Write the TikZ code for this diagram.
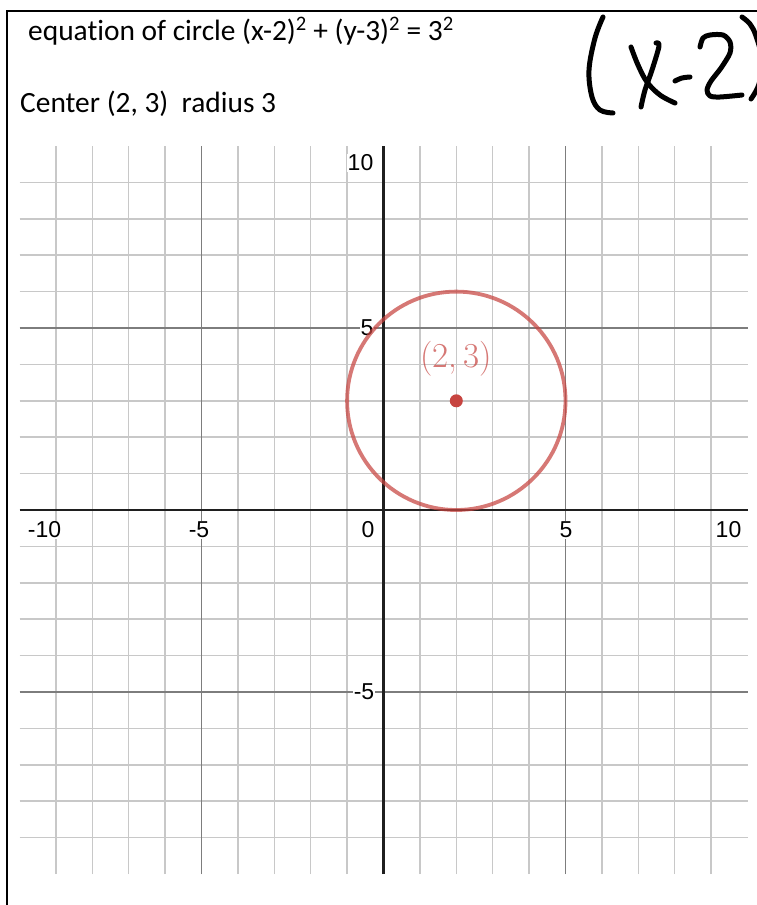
\documentclass[tikz,border=0pt]{standalone}
\usepackage{fontspec}
\setmainfont[Ligatures=NoCommon]{Carlito}
\newfontfamily\axisfont{Liberation Sans}
\newfontfamily\lmfont{Latin Modern Roman}
\definecolor{desred}{RGB}{199,68,64}
\definecolor{minorgrid}{RGB}{200,200,200}
\definecolor{majorgrid}{RGB}{125,125,125}
\begin{document}
\begin{tikzpicture}[x=1pt,y=-1pt,
  minor/.style={draw=minorgrid,line width=1.5pt},
  major/.style={draw=majorgrid,line width=1.5pt},
  axisline/.style={draw=black!88,line width=2.5pt},
  frameline/.style={draw=black,line width=2.6pt},
  ink/.style={draw=black,line width=5pt,line cap=round,line join=round},
  axlabel/.style={font=\axisfont\fontsize{23}{23}\selectfont,fill=white,inner sep=1pt,text=black},
  heading/.style={font=\fontsize{29.4}{31}\selectfont,inner sep=0pt,anchor=base west},
  ptlabel/.style={font=\lmfont\fontsize{35}{35}\selectfont,text=desred,text opacity=0.72,inner sep=0pt},
]
\useasboundingbox (0,0) rectangle (757,905);
\clip (0,0) rectangle (757,905);
\fill[white] (0,0) rectangle (757,905);
% frame
\coordinate (fbl) at (7,905);
\coordinate (ftl) at (7,11);
\coordinate (ftr) at (757,11);
\draw[frameline] (fbl) -- (ftl) -- (ftr);
% headings
\node[heading] (eq) at (28,40) {equation of circle (x-2)\textsuperscript{2} + (y-3)\textsuperscript{2} = 3\textsuperscript{2}};
\node[heading] (ctr) at (20,112) {Center (2, 3)\ \ radius 3};
% handwriting
\draw[ink] plot[smooth,tension=0.6] coordinates {(603,17) (595,38) (589,70) (592,97) (600,110) (613,113)};
\draw[ink] plot[smooth,tension=0.6] coordinates {(631,47) (638,65) (647,82) (660,95) (675,103)};
\draw[ink] plot[smooth,tension=0.6] coordinates {(656,43) (659,46) (652,70) (645,90) (641,107)};
\draw[ink] plot[smooth,tension=0.6] coordinates {(675,81) (682,78) (690,77)};
\draw[ink] plot[smooth,tension=0.5] coordinates {(700,47) (703,38) (710,35) (723,35) (730,42) (730,53) (721,68) (711,81) (707,90) (710,96) (720,97) (742,95)};
\draw[ink] plot[smooth,tension=0.6] coordinates {(742,17) (750,24) (756,36) (762,60) (759,84) (751,99)};
% grid
\begin{scope}[shift={(383.5,510)},x=36.4pt,y=36.4pt]
  \foreach \i in {-9,-8,-7,-6,-4,-3,-2,-1,1,2,3,4,6,7,8,9} {
    \draw[minor] (\i,-10) -- (\i,10);
    \draw[minor] (-10,\i) -- (10,\i);
  }
  \foreach \i in {-5,5} {
    \draw[major] (\i,-10) -- (\i,10);
    \draw[major] (-10,\i) -- (10,\i);
  }
  \draw[axisline] (0,-10) -- (0,10);
  \draw[axisline] (-10,0) -- (10,0);
\end{scope}
% axis labels
\node[axlabel] (xm10) at (44.5,530) {-10};
\node[axlabel] (xm5) at (199,530) {-5};
\node[axlabel] (x0) at (368,530) {0};
\node[axlabel] (x5) at (566,530) {5};
\node[axlabel] (x10) at (728.5,530) {10};
\node[axlabel] (y10) at (360.5,163) {10};
\node[axlabel] (y5) at (367,328) {5};
\node[axlabel] (ym5) at (364,692) {-5};
% circle and centre
\begin{scope}[shift={(383.5,510)},x=36.4pt,y=36.4pt]
  \draw[desred,draw opacity=0.72,line width=3.8pt] (2,3) circle[radius=3];
  \fill[desred] (2,3) circle[radius=6.5pt];
  \coordinate (ctrpt) at (2,3);
\end{scope}
\node[ptlabel] (lbl) at (456,359) {(2,\,3)};
\end{tikzpicture}
\end{document}
